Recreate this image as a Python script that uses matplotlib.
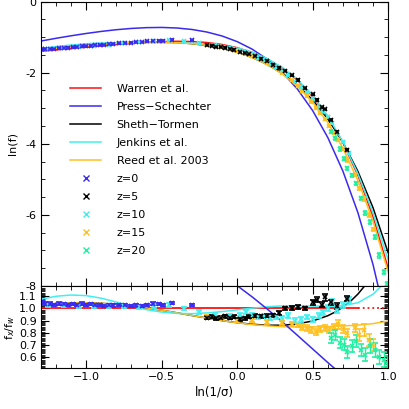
import matplotlib
matplotlib.use("Agg")
import matplotlib.pyplot as plt
from matplotlib.lines import Line2D
from matplotlib.ticker import MultipleLocator, FormatStrFormatter

# ---- fit curves, ln(f) vs ln(1/sigma) ----
s_grid = [-1.3, -1.2, -1.1, -1.0, -0.9, -0.8, -0.7, -0.6, -0.5, -0.4, -0.3, -0.2,
          -0.1, 0.0, 0.1, 0.2, 0.3, 0.4, 0.5, 0.6, 0.7, 0.8, 0.9, 1.0]
warren = [-1.394, -1.359, -1.321, -1.283, -1.245, -1.208, -1.174, -1.145, -1.125, -1.116,
          -1.123, -1.151, -1.206, -1.296, -1.429, -1.618, -1.875, -2.216, -2.662, -3.236,
          -3.967, -4.892, -6.053, -7.504]
press = [-1.109, -1.032, -0.961, -0.896, -0.838, -0.790, -0.754, -0.732, -0.726, -0.742,
         -0.783, -0.856, -0.967, -1.125, -1.339, -1.624, -1.993, -2.467, -3.067, -3.822,
         -4.767, -5.943, -7.402, -9.205]
sheth = [-1.365, -1.320, -1.277, -1.238, -1.203, -1.175, -1.153, -1.141, -1.140, -1.152,
         -1.182, -1.234, -1.311, -1.420, -1.569, -1.767, -2.023, -2.352, -2.770, -3.297,
         -3.957, -4.780, -5.801, -7.066]
jenkins = [-1.320, -1.264, -1.222, -1.183, -1.164, -1.157, -1.155, -1.155, -1.155, -1.158,
           -1.167, -1.189, -1.233, -1.308, -1.427, -1.604, -1.854, -2.194, -2.642, -3.219,
           -3.945, -4.845, -5.943, -7.264]
reed = [-1.365, -1.320, -1.277, -1.238, -1.203, -1.175, -1.153, -1.141, -1.140, -1.152,
        -1.182, -1.234, -1.311, -1.421, -1.572, -1.773, -2.037, -2.382, -2.826, -3.397,
        -4.123, -5.039, -6.186, -7.613]

# ---- ratio curves f_x / f_w ----
st_s = [-1.3, -1.2, -1.1, -1.0, -0.9, -0.8, -0.7, -0.6, -0.5, -0.4, -0.3, -0.2, -0.1,
        0.0, 0.1, 0.2, 0.3, 0.4, 0.5, 0.6, 0.65, 0.7, 0.75, 0.8, 0.85, 0.9]
st_ratio = [1.029, 1.040, 1.045, 1.046, 1.042, 1.033, 1.021, 1.004, 0.985, 0.964, 0.942,
            0.921, 0.900, 0.883, 0.870, 0.862, 0.862, 0.873, 0.897, 0.940, 0.971, 1.010,
            1.058, 1.118, 1.193, 1.286]
jk_s = [-1.3, -1.2, -1.1, -1.0, -0.9, -0.8, -0.7, -0.6, -0.5, -0.4, -0.3, -0.2, -0.1,
        0.0, 0.1, 0.2, 0.3, 0.4, 0.5, 0.6, 0.7, 0.8, 0.9, 0.95, 1.0]
jk_ratio = [1.075, 1.100, 1.110, 1.105, 1.084, 1.052, 1.019, 0.990, 0.970, 0.959, 0.957,
            0.963, 0.974, 0.988, 1.002, 1.014, 1.021, 1.023, 1.020, 1.017, 1.022, 1.047,
            1.117, 1.178, 1.271]
rd_ratio = [1.029, 1.040, 1.045, 1.046, 1.042, 1.033, 1.021, 1.004, 0.985, 0.964, 0.942,
            0.921, 0.900, 0.882, 0.867, 0.857, 0.850, 0.847, 0.848, 0.851, 0.856, 0.863,
            0.875, 0.896]
ps_s = [-0.1, 0.0, 0.1, 0.2, 0.3, 0.4, 0.5, 0.6, 0.7]
ps_ratio = [1.270, 1.187, 1.094, 0.994, 0.888, 0.778, 0.667, 0.556, 0.449]

# ---- simulation points ----
z0_s = [-1.29, -1.27, -1.24, -1.21, -1.18, -1.15, -1.12, -1.09, -1.06, -1.03, -1.00, -0.97,
        -0.94, -0.91, -0.88, -0.85, -0.82, -0.78, -0.74, -0.70, -0.67, -0.63, -0.60, -0.56,
        -0.52, -0.49, -0.43, -0.30]
z0_lnf = [-1.341, -1.344, -1.334, -1.333, -1.312, -1.306, -1.299, -1.283, -1.276, -1.255,
          -1.253, -1.238, -1.230, -1.219, -1.218, -1.197, -1.190, -1.171, -1.158, -1.154,
          -1.140, -1.134, -1.115, -1.098, -1.095, -1.094, -1.075, -1.093]
z0_r = [1.05, 1.04, 1.04, 1.03, 1.04, 1.035, 1.03, 1.035, 1.03, 1.04, 1.03, 1.035, 1.03,
        1.03, 1.02, 1.03, 1.025, 1.03, 1.03, 1.02, 1.025, 1.02, 1.03, 1.04, 1.035, 1.03,
        1.045, 1.03]
z0_err = [0.01] * len(z0_s)

z5_s = [-0.20, -0.17, -0.14, -0.11, -0.08, -0.05, -0.02, 0.02, 0.05, 0.08, 0.12, 0.16,
        0.20, 0.24, 0.28, 0.32, 0.36, 0.40, 0.45, 0.50, 0.53, 0.56, 0.58, 0.62, 0.66, 0.73]
z5_lnf = [-1.229, -1.240, -1.267, -1.279, -1.291, -1.329, -1.351, -1.417, -1.446, -1.475,
          -1.529, -1.609, -1.680, -1.778, -1.865, -1.943, -2.075, -2.206, -2.439, -2.613,
          -2.766, -2.976, -3.035, -3.333, -3.655, -4.168]
z5_r = [0.925, 0.93, 0.92, 0.925, 0.935, 0.925, 0.93, 0.91, 0.92, 0.93, 0.94, 0.935, 0.94,
        0.945, 0.96, 1.00, 1.005, 1.01, 1.00, 1.05, 1.07, 1.03, 1.09, 1.05, 1.02, 1.08]
z5_err = [0.012, 0.012, 0.012, 0.012, 0.012, 0.012, 0.012, 0.012, 0.012, 0.012, 0.012,
          0.012, 0.012, 0.012, 0.015, 0.015, 0.015, 0.015, 0.015, 0.02, 0.02, 0.02, 0.025,
          0.02, 0.025, 0.02]

z10_s = [-1.25, -1.15, -1.05, -0.95, -0.85, -0.75, -0.65, -0.55, -0.45, -0.35, -0.25,
         -0.15, -0.05, 0.02, 0.06, 0.10, 0.14, 0.18, 0.22, 0.26, 0.30, 0.34, 0.38, 0.42,
         0.46, 0.50, 0.54, 0.57, 0.60, 0.63, 0.66, 0.70, 0.74]
z10_lnf = [-1.347, -1.310, -1.282, -1.244, -1.207, -1.171, -1.150, -1.115, -1.091, -1.120,
           -1.167, -1.230, -1.313, -1.374, -1.406, -1.480, -1.578, -1.642, -1.752, -1.845,
           -1.958, -2.073, -2.253, -2.399, -2.557, -2.756, -2.954, -3.094, -3.236, -3.406,
           -3.685, -3.937, -4.269]
z10_r = [1.03, 1.03, 1.02, 1.02, 1.02, 1.02, 1.01, 1.02, 1.03, 1.00, 0.97, 0.95, 0.94,
         0.95, 0.97, 0.95, 0.93, 0.94, 0.92, 0.93, 0.92, 0.94, 0.90, 0.91, 0.93, 0.91,
         0.94, 0.97, 1.00, 1.05, 0.99, 1.03, 1.07]
z10_err = [0.015] * 20 + [0.02] * 8 + [0.025] * 5

z15_s = [-0.20, -0.10, 0.00, 0.10, 0.20, 0.30, 0.36, 0.40, 0.43, 0.46, 0.49, 0.52, 0.55,
         0.58, 0.61, 0.64, 0.67, 0.70, 0.73, 0.78, 0.81, 0.84, 0.87, 0.90]
z15_lnf = [-1.224, -1.289, -1.401, -1.534, -1.735, -2.003, -2.219, -2.367, -2.513, -2.658,
           -2.815, -2.988, -3.135, -3.295, -3.507, -3.691, -3.887, -4.153, -4.468, -4.881,
           -5.256, -5.554, -6.006, -6.410]
z15_r = [0.93, 0.92, 0.90, 0.90, 0.89, 0.88, 0.87, 0.86, 0.85, 0.84, 0.82, 0.81, 0.83,
         0.84, 0.82, 0.85, 0.87, 0.83, 0.80, 0.84, 0.78, 0.82, 0.74, 0.70]
z15_err = [0.015] * 8 + [0.025] * 8 + [0.035] * 4 + [0.05] * 4

z20_s = [0.62, 0.65, 0.68, 0.71, 0.73, 0.76, 0.79, 0.82, 0.85, 0.88, 0.91, 0.94, 0.97, 0.99]
z20_lnf = [-3.656, -3.850, -4.150, -4.416, -4.691, -4.893, -5.115, -5.540, -5.951, -6.192,
           -6.614, -7.144, -7.614, -7.957]
z20_r = [0.76, 0.78, 0.72, 0.70, 0.64, 0.69, 0.73, 0.66, 0.62, 0.69, 0.66, 0.60, 0.58, 0.55]
z20_err = [0.04, 0.04, 0.045, 0.045, 0.05, 0.05, 0.05, 0.05, 0.055, 0.055, 0.06, 0.06,
           0.06, 0.06]

c_red = "#ff1010"
c_blue = "#3a2af0"
c_black = "#000000"
c_cyan = "#40f0f0"
c_orange = "#ffc020"
c_green = "#20f0a0"

plt.rcParams["font.family"] = "DejaVu Sans"
plt.rcParams["font.size"] = 8

fig = plt.figure(figsize=(4.09, 4.09), dpi=100)
ax1 = fig.add_axes([0.100, 0.301, 0.849, 0.695])
ax2 = fig.add_axes([0.100, 0.100, 0.849, 0.201])

# top panel
ax1.plot(s_grid, warren, color=c_red, lw=1.1)
ax1.plot(s_grid, press, color=c_blue, lw=1.1)
ax1.plot(s_grid, sheth, color=c_black, lw=1.1)
ax1.plot(s_grid, jenkins, color=c_cyan, lw=1.1)
ax1.plot(s_grid, reed, color=c_orange, lw=1.1)

series = [
    (z10_s, z10_lnf, z10_r, z10_err, c_cyan),
    (z15_s, z15_lnf, z15_r, z15_err, c_orange),
    (z20_s, z20_lnf, z20_r, z20_err, c_green),
    (z0_s, z0_lnf, z0_r, z0_err, c_blue),
    (z5_s, z5_lnf, z5_r, z5_err, c_black),
]
for xs, lnf, r, err, col in series:
    ax1.errorbar(xs, lnf, yerr=err, fmt="x", color=col, ms=3.5, mew=1.2, elinewidth=1,
                 capsize=1.5)

ax1.set_xlim(-1.3, 1.0)
ax1.set_ylim(-8, 0)
ax1.yaxis.set_major_locator(MultipleLocator(2))
ax1.yaxis.set_minor_locator(MultipleLocator(0.5))
ax1.xaxis.set_major_locator(MultipleLocator(0.5))
ax1.xaxis.set_minor_locator(MultipleLocator(0.1))
ax1.tick_params(labelbottom=False)
ax1.yaxis.set_major_formatter(FormatStrFormatter("%d"))
ax1.set_ylabel("ln(f)", fontsize=8)

handles = [
    Line2D([], [], color=c_red, lw=1.1),
    Line2D([], [], color=c_blue, lw=1.1),
    Line2D([], [], color=c_black, lw=1.1),
    Line2D([], [], color=c_cyan, lw=1.1),
    Line2D([], [], color=c_orange, lw=1.1),
    Line2D([], [], color=c_blue, ls="none", marker="x", ms=4),
    Line2D([], [], color=c_black, ls="none", marker="x", ms=4),
    Line2D([], [], color=c_cyan, ls="none", marker="x", ms=4),
    Line2D([], [], color=c_orange, ls="none", marker="x", ms=4),
    Line2D([], [], color=c_green, ls="none", marker="x", ms=4),
]
labels = ["Warren et al.", "Press\u2212Schechter", "Sheth\u2212Tormen", "Jenkins et al.",
          "Reed et al. 2003", "z=0", "z=5", "z=10", "z=15", "z=20"]
ax1.legend(handles, labels, loc="upper left", bbox_to_anchor=(0.055, 0.745), frameon=False,
           handlelength=2.8, handletextpad=1.4, labelspacing=0.72, fontsize=8)

# bottom panel
ax2.plot([-1.3, 0.8], [1.0, 1.0], color=c_red, lw=1.3)
ax2.plot([0.8, 1.0], [1.0, 1.0], color=c_red, lw=1.3, ls=":")
ax2.plot(st_s, st_ratio, color=c_black, lw=1.1)
ax2.plot(s_grid, rd_ratio, color=c_orange, lw=1.1)
ax2.plot(jk_s, jk_ratio, color=c_cyan, lw=1.1)
ax2.plot(ps_s, ps_ratio, color=c_blue, lw=1.1)
for xs, lnf, r, err, col in series:
    ax2.errorbar(xs, r, yerr=err, fmt="x", color=col, ms=3.5, mew=1.2, elinewidth=1,
                 capsize=2.5)

ax2.set_xlim(-1.3, 1.0)
ax2.set_ylim(0.51, 1.185)
ax2.set_xlabel("ln(1/\u03c3)", fontsize=8.5, labelpad=2)
ax2.set_ylabel("f$_x$/f$_w$", fontsize=8)
ax2.xaxis.set_major_locator(MultipleLocator(0.5))
ax2.xaxis.set_minor_locator(MultipleLocator(0.1))
ax2.yaxis.set_minor_locator(MultipleLocator(0.01))
ax2.set_yticks([0.6, 0.7, 0.8, 0.9, 1.0, 1.1])
ax2.yaxis.set_major_formatter(FormatStrFormatter("%.1f"))

for ax in (ax1, ax2):
    ax.tick_params(which="both", direction="in", top=True, right=True, pad=3, labelsize=8)
    ax.tick_params(which="major", length=6)
    ax.tick_params(which="minor", length=3)
ax1.yaxis.set_label_coords(-0.068, 0.5)
ax2.yaxis.set_label_coords(-0.068, 0.5)

fig.savefig("out.png", dpi=100)
